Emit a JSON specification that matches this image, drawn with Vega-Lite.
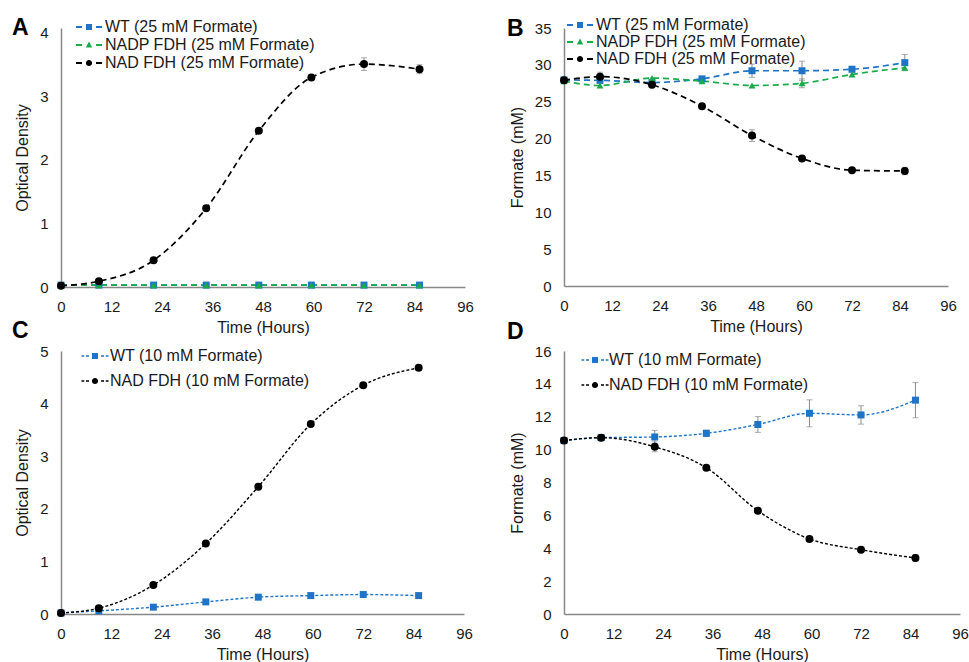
{
"$schema":"https://vega.github.io/schema/vega-lite/v6.json",
"padding":{"left":12,"top":17,"right":5,"bottom":0},
"datasets":{"d":[
{"p":"A","s":"WT (25 mM Formate)","t":0,"v":0.03},
{"p":"A","s":"WT (25 mM Formate)","t":9,"v":0.03},
{"p":"A","s":"WT (25 mM Formate)","t":22,"v":0.03},
{"p":"A","s":"WT (25 mM Formate)","t":34.5,"v":0.03},
{"p":"A","s":"WT (25 mM Formate)","t":47,"v":0.03},
{"p":"A","s":"WT (25 mM Formate)","t":59.5,"v":0.03},
{"p":"A","s":"WT (25 mM Formate)","t":72,"v":0.03},
{"p":"A","s":"WT (25 mM Formate)","t":85.2,"v":0.03},
{"p":"A","s":"NADP FDH (25 mM Formate)","t":0,"v":0.03},
{"p":"A","s":"NADP FDH (25 mM Formate)","t":9,"v":0.03},
{"p":"A","s":"NADP FDH (25 mM Formate)","t":22,"v":0.03},
{"p":"A","s":"NADP FDH (25 mM Formate)","t":34.5,"v":0.03},
{"p":"A","s":"NADP FDH (25 mM Formate)","t":47,"v":0.03},
{"p":"A","s":"NADP FDH (25 mM Formate)","t":59.5,"v":0.03},
{"p":"A","s":"NADP FDH (25 mM Formate)","t":72,"v":0.03},
{"p":"A","s":"NADP FDH (25 mM Formate)","t":85.2,"v":0.03},
{"p":"A","s":"NAD FDH (25 mM Formate)","t":0,"v":0.02},
{"p":"A","s":"NAD FDH (25 mM Formate)","t":9,"v":0.09},
{"p":"A","s":"NAD FDH (25 mM Formate)","t":22,"v":0.42},
{"p":"A","s":"NAD FDH (25 mM Formate)","t":34.5,"v":1.24},
{"p":"A","s":"NAD FDH (25 mM Formate)","t":47,"v":2.46},
{"p":"A","s":"NAD FDH (25 mM Formate)","t":59.5,"v":3.30,"lo":3.27,"hi":3.33},
{"p":"A","s":"NAD FDH (25 mM Formate)","t":72,"v":3.51,"lo":3.41,"hi":3.61},
{"p":"A","s":"NAD FDH (25 mM Formate)","t":85.2,"v":3.43,"lo":3.36,"hi":3.50},
{"p":"B","s":"WT (25 mM Formate)","t":0,"v":27.95},
{"p":"B","s":"WT (25 mM Formate)","t":9,"v":27.9,"lo":27.5,"hi":28.3},
{"p":"B","s":"WT (25 mM Formate)","t":22,"v":27.6},
{"p":"B","s":"WT (25 mM Formate)","t":34.5,"v":28.1},
{"p":"B","s":"WT (25 mM Formate)","t":47,"v":29.2,"lo":28.3,"hi":30.1},
{"p":"B","s":"WT (25 mM Formate)","t":59.5,"v":29.2,"lo":27.9,"hi":30.5},
{"p":"B","s":"WT (25 mM Formate)","t":72,"v":29.4,"lo":29.0,"hi":29.8},
{"p":"B","s":"WT (25 mM Formate)","t":85.2,"v":30.3,"lo":29.2,"hi":31.4},
{"p":"B","s":"NADP FDH (25 mM Formate)","t":0,"v":27.8},
{"p":"B","s":"NADP FDH (25 mM Formate)","t":9,"v":27.2},
{"p":"B","s":"NADP FDH (25 mM Formate)","t":22,"v":28.2},
{"p":"B","s":"NADP FDH (25 mM Formate)","t":34.5,"v":27.8},
{"p":"B","s":"NADP FDH (25 mM Formate)","t":47,"v":27.2},
{"p":"B","s":"NADP FDH (25 mM Formate)","t":59.5,"v":27.5,"lo":26.9,"hi":28.1},
{"p":"B","s":"NADP FDH (25 mM Formate)","t":72,"v":28.7},
{"p":"B","s":"NADP FDH (25 mM Formate)","t":85.2,"v":29.6},
{"p":"B","s":"NAD FDH (25 mM Formate)","t":0,"v":27.9},
{"p":"B","s":"NAD FDH (25 mM Formate)","t":9,"v":28.4,"lo":27.8,"hi":29.0},
{"p":"B","s":"NAD FDH (25 mM Formate)","t":22,"v":27.3,"lo":26.9,"hi":27.7},
{"p":"B","s":"NAD FDH (25 mM Formate)","t":34.5,"v":24.4},
{"p":"B","s":"NAD FDH (25 mM Formate)","t":47,"v":20.4,"lo":19.6,"hi":21.2},
{"p":"B","s":"NAD FDH (25 mM Formate)","t":59.5,"v":17.3},
{"p":"B","s":"NAD FDH (25 mM Formate)","t":72,"v":15.7},
{"p":"B","s":"NAD FDH (25 mM Formate)","t":85.2,"v":15.6,"lo":15.1,"hi":16.1},
{"p":"C","s":"WT (10 mM Formate)","t":0,"v":0.02},
{"p":"C","s":"WT (10 mM Formate)","t":9,"v":0.06},
{"p":"C","s":"WT (10 mM Formate)","t":22,"v":0.13},
{"p":"C","s":"WT (10 mM Formate)","t":34.5,"v":0.23},
{"p":"C","s":"WT (10 mM Formate)","t":47,"v":0.32},
{"p":"C","s":"WT (10 mM Formate)","t":59.5,"v":0.35},
{"p":"C","s":"WT (10 mM Formate)","t":72,"v":0.37},
{"p":"C","s":"WT (10 mM Formate)","t":85.2,"v":0.35},
{"p":"C","s":"NAD FDH (10 mM Formate)","t":0,"v":0.02},
{"p":"C","s":"NAD FDH (10 mM Formate)","t":9,"v":0.11},
{"p":"C","s":"NAD FDH (10 mM Formate)","t":22,"v":0.55},
{"p":"C","s":"NAD FDH (10 mM Formate)","t":34.5,"v":1.34},
{"p":"C","s":"NAD FDH (10 mM Formate)","t":47,"v":2.42},
{"p":"C","s":"NAD FDH (10 mM Formate)","t":59.5,"v":3.61},
{"p":"C","s":"NAD FDH (10 mM Formate)","t":72,"v":4.35},
{"p":"C","s":"NAD FDH (10 mM Formate)","t":85.2,"v":4.68},
{"p":"D","s":"WT (10 mM Formate)","t":0,"v":10.55},
{"p":"D","s":"WT (10 mM Formate)","t":9,"v":10.73},
{"p":"D","s":"WT (10 mM Formate)","t":22,"v":10.77,"lo":10.37,"hi":11.17},
{"p":"D","s":"WT (10 mM Formate)","t":34.5,"v":10.99,"lo":10.79,"hi":11.19},
{"p":"D","s":"WT (10 mM Formate)","t":47,"v":11.53,"lo":11.05,"hi":12.01},
{"p":"D","s":"WT (10 mM Formate)","t":59.5,"v":12.21,"lo":11.39,"hi":13.03},
{"p":"D","s":"WT (10 mM Formate)","t":72,"v":12.11,"lo":11.55,"hi":12.67},
{"p":"D","s":"WT (10 mM Formate)","t":85.2,"v":13.01,"lo":11.94,"hi":14.08},
{"p":"D","s":"NAD FDH (10 mM Formate)","t":0,"v":10.55},
{"p":"D","s":"NAD FDH (10 mM Formate)","t":9,"v":10.73},
{"p":"D","s":"NAD FDH (10 mM Formate)","t":22,"v":10.17,"lo":9.87,"hi":10.47},
{"p":"D","s":"NAD FDH (10 mM Formate)","t":34.5,"v":8.9},
{"p":"D","s":"NAD FDH (10 mM Formate)","t":47,"v":6.28,"lo":6.13,"hi":6.43},
{"p":"D","s":"NAD FDH (10 mM Formate)","t":59.5,"v":4.57,"lo":4.42,"hi":4.72},
{"p":"D","s":"NAD FDH (10 mM Formate)","t":72,"v":3.91},
{"p":"D","s":"NAD FDH (10 mM Formate)","t":85.2,"v":3.41,"lo":3.21,"hi":3.61}
]},
"data":{"name":"d"},
"columns":2,
"spacing":{"row":64,"column":99},
"bounds":"flush",
"align":"each",
"resolve":{"scale":{"color":"independent","shape":"independent"},"legend":{"color":"independent","shape":"independent"}},
"concat":[
{"width":404,"height":259,
"title":{"text":"A","dx":-49,"offset":-21},
"transform":[{"filter":"datum.p=='A'"}],
"encoding":{
"x":{"field":"t","type":"quantitative","scale":{"domain":[0,96],"nice":false},"axis":{"values":[0,12,24,36,48,60,72,84,96],"title":"Time (Hours)"}},
"y":{"field":"v","type":"quantitative","scale":{"domain":[0,4.0787],"nice":false},"axis":{"values":[0,1,2,3,4],"title":"Optical Density"}}},
"layer":[
{"transform":[{"filter":"isValid(datum.lo)"}],"mark":{"type":"errorbar","color":"#8a8a8a","thickness":1,"ticks":{"size":6}},"encoding":{"y":{"field":"lo","type":"quantitative","scale":{"domain":[0,4.0787],"nice":false},"title":"Optical Density"},"y2":{"field":"hi"}}},
{"transform":[{"filter":"datum.s=='WT (25 mM Formate)'"}],"mark":{"type":"line","color":"#1f74c8","strokeDash":[6,4],"strokeWidth":1.7,"interpolate":"monotone"}},
{"transform":[{"filter":"datum.s=='NADP FDH (25 mM Formate)'"}],"mark":{"type":"line","color":"#1aab4b","strokeDash":[6,4],"strokeWidth":1.7,"interpolate":"monotone"}},
{"transform":[{"filter":"datum.s=='NAD FDH (25 mM Formate)'"}],"mark":{"type":"line","color":"#000000","strokeDash":[6,4],"strokeWidth":1.7,"interpolate":"monotone"}},
{"transform":[{"filter":"datum.s=='WT (25 mM Formate)'"}],"mark":{"type":"point","shape":"square","filled":true,"opacity":1,"size":49,"color":"#1f74c8"}},
{"transform":[{"filter":"datum.s=='NADP FDH (25 mM Formate)'"}],"mark":{"type":"point","shape":"triangle-up","filled":true,"opacity":1,"size":50,"color":"#1aab4b"}},
{"transform":[{"filter":"datum.s=='NAD FDH (25 mM Formate)'"}],"mark":{"type":"point","shape":"circle","filled":true,"opacity":1,"size":64,"color":"#000000"}},
{"data":{"values":[]},"mark":{"type":"point","filled":true,"opacity":1},
"encoding":{
"color":{"field":"s","type":"nominal","scale":{"domain":["WT (25 mM Formate)","NADP FDH (25 mM Formate)","NAD FDH (25 mM Formate)"],"range":["#1f74c8","#1aab4b","#000000"]},"legend":{"orient":"none","legendX":20,"legendY":-9,"title":null,"symbolSize":100,"rowPadding":2,"labelOffset":8,"padding":0}},
"shape":{"field":"s","type":"nominal","scale":{"domain":["WT (25 mM Formate)","NADP FDH (25 mM Formate)","NAD FDH (25 mM Formate)"],"range":["M-2.6,-0.2H-1.4V0.2H-2.6Z M-0.6,-0.6H0.6V0.6H-0.6Z M1.4,-0.2H2.6V0.2H1.4Z","M-2.6,-0.2H-1.4V0.2H-2.6Z M0,-0.7L0.65,0.5H-0.65Z M1.4,-0.2H2.6V0.2H1.4Z","M-2.6,-0.2H-1.4V0.2H-2.6Z M0.62,0A0.62,0.62 0 1,1 -0.62,0A0.62,0.62 0 1,1 0.62,0Z M1.4,-0.2H2.6V0.2H1.4Z"]},"legend":{"orient":"none","legendX":20,"legendY":-9,"title":null,"symbolSize":100,"rowPadding":2,"labelOffset":8,"padding":0}}}}
]},
{"width":384,"height":258,
"title":{"text":"B","dx":-57,"offset":-24},
"transform":[{"filter":"datum.p=='B'"}],
"encoding":{
"x":{"field":"t","type":"quantitative","scale":{"domain":[0,96],"nice":false},"axis":{"values":[0,12,24,36,48,60,72,84,96],"title":"Time (Hours)"}},
"y":{"field":"v","type":"quantitative","scale":{"domain":[0,35],"nice":false},"axis":{"values":[0,5,10,15,20,25,30,35],"title":"Formate (mM)"}}},
"layer":[
{"transform":[{"filter":"isValid(datum.lo)"}],"mark":{"type":"errorbar","color":"#8a8a8a","thickness":1,"ticks":{"size":6}},"encoding":{"y":{"field":"lo","type":"quantitative","scale":{"domain":[0,35],"nice":false},"title":"Formate (mM)"},"y2":{"field":"hi"}}},
{"transform":[{"filter":"datum.s=='WT (25 mM Formate)'"}],"mark":{"type":"line","color":"#1f74c8","strokeDash":[6,4],"strokeWidth":1.7,"interpolate":"monotone"}},
{"transform":[{"filter":"datum.s=='NADP FDH (25 mM Formate)'"}],"mark":{"type":"line","color":"#1aab4b","strokeDash":[6,4],"strokeWidth":1.7,"interpolate":"monotone"}},
{"transform":[{"filter":"datum.s=='NAD FDH (25 mM Formate)'"}],"mark":{"type":"line","color":"#000000","strokeDash":[6,4],"strokeWidth":1.7,"interpolate":"monotone"}},
{"transform":[{"filter":"datum.s=='WT (25 mM Formate)'"}],"mark":{"type":"point","shape":"square","filled":true,"opacity":1,"size":49,"color":"#1f74c8"}},
{"transform":[{"filter":"datum.s=='NADP FDH (25 mM Formate)'"}],"mark":{"type":"point","shape":"triangle-up","filled":true,"opacity":1,"size":50,"color":"#1aab4b"}},
{"transform":[{"filter":"datum.s=='NAD FDH (25 mM Formate)'"}],"mark":{"type":"point","shape":"circle","filled":true,"opacity":1,"size":64,"color":"#000000"}},
{"data":{"values":[]},"mark":{"type":"point","filled":true,"opacity":1},
"encoding":{
"color":{"field":"s","type":"nominal","scale":{"domain":["WT (25 mM Formate)","NADP FDH (25 mM Formate)","NAD FDH (25 mM Formate)"],"range":["#1f74c8","#1aab4b","#000000"]},"legend":{"orient":"none","legendX":8,"legendY":-11,"title":null,"symbolSize":100,"rowPadding":1,"labelOffset":8,"padding":0}},
"shape":{"field":"s","type":"nominal","scale":{"domain":["WT (25 mM Formate)","NADP FDH (25 mM Formate)","NAD FDH (25 mM Formate)"],"range":["M-2.6,-0.2H-1.4V0.2H-2.6Z M-0.6,-0.6H0.6V0.6H-0.6Z M1.4,-0.2H2.6V0.2H1.4Z","M-2.6,-0.2H-1.4V0.2H-2.6Z M0,-0.7L0.65,0.5H-0.65Z M1.4,-0.2H2.6V0.2H1.4Z","M-2.6,-0.2H-1.4V0.2H-2.6Z M0.62,0A0.62,0.62 0 1,1 -0.62,0A0.62,0.62 0 1,1 0.62,0Z M1.4,-0.2H2.6V0.2H1.4Z"]},"legend":{"orient":"none","legendX":8,"legendY":-11,"title":null,"symbolSize":100,"rowPadding":1,"labelOffset":8,"padding":0}}}}
]},
{"width":403,"height":263,
"title":{"text":"C","dx":-49,"offset":1},
"transform":[{"filter":"datum.p=='C'"}],
"encoding":{
"x":{"field":"t","type":"quantitative","scale":{"domain":[0,96],"nice":false},"axis":{"values":[0,12,24,36,48,60,72,84,96],"title":"Time (Hours)"}},
"y":{"field":"v","type":"quantitative","scale":{"domain":[0,5],"nice":false},"axis":{"values":[0,1,2,3,4,5],"title":"Optical Density"}}},
"layer":[
{"transform":[{"filter":"datum.s=='WT (10 mM Formate)'"}],"mark":{"type":"line","color":"#1f74c8","strokeDash":[3,2],"strokeWidth":1.4,"interpolate":"monotone"}},
{"transform":[{"filter":"datum.s=='NAD FDH (10 mM Formate)'"}],"mark":{"type":"line","color":"#000000","strokeDash":[3,2],"strokeWidth":1.4,"interpolate":"monotone"}},
{"transform":[{"filter":"datum.s=='WT (10 mM Formate)'"}],"mark":{"type":"point","shape":"square","filled":true,"opacity":1,"size":49,"color":"#1f74c8"}},
{"transform":[{"filter":"datum.s=='NAD FDH (10 mM Formate)'"}],"mark":{"type":"point","shape":"circle","filled":true,"opacity":1,"size":64,"color":"#000000"}},
{"data":{"values":[]},"mark":{"type":"point","filled":true,"opacity":1},
"encoding":{
"color":{"field":"s","type":"nominal","scale":{"domain":["WT (10 mM Formate)","NAD FDH (10 mM Formate)"],"range":["#1f74c8","#000000"]},"legend":{"orient":"none","legendX":26,"legendY":-3,"title":null,"symbolSize":100,"rowPadding":9,"labelOffset":7,"padding":0}},
"shape":{"field":"s","type":"nominal","scale":{"domain":["WT (10 mM Formate)","NAD FDH (10 mM Formate)"],"range":["M-2.7,-0.15H-2.15V0.15H-2.7Z M-1.8,-0.15H-1.2V0.15H-1.8Z M-0.6,-0.6H0.6V0.6H-0.6Z M1.2,-0.15H1.8V0.15H1.2Z M2.15,-0.15H2.7V0.15H2.15Z","M-2.7,-0.15H-2.15V0.15H-2.7Z M-1.8,-0.15H-1.2V0.15H-1.8Z M0.62,0A0.62,0.62 0 1,1 -0.62,0A0.62,0.62 0 1,1 0.62,0Z M1.2,-0.15H1.8V0.15H1.2Z M2.15,-0.15H2.7V0.15H2.15Z"]},"legend":{"orient":"none","legendX":26,"legendY":-3,"title":null,"symbolSize":100,"rowPadding":9,"labelOffset":7,"padding":0}}}}
]},
{"width":396,"height":263,
"title":{"text":"D","dx":-57,"offset":0},
"transform":[{"filter":"datum.p=='D'"}],
"encoding":{
"x":{"field":"t","type":"quantitative","scale":{"domain":[0,96],"nice":false},"axis":{"values":[0,12,24,36,48,60,72,84,96],"title":"Time (Hours)"}},
"y":{"field":"v","type":"quantitative","scale":{"domain":[0,16],"nice":false},"axis":{"values":[0,2,4,6,8,10,12,14,16],"title":"Formate (mM)"}}},
"layer":[
{"transform":[{"filter":"isValid(datum.lo)"}],"mark":{"type":"errorbar","color":"#8a8a8a","thickness":1,"ticks":{"size":6}},"encoding":{"y":{"field":"lo","type":"quantitative","scale":{"domain":[0,16],"nice":false},"title":"Formate (mM)"},"y2":{"field":"hi"}}},
{"transform":[{"filter":"datum.s=='WT (10 mM Formate)'"}],"mark":{"type":"line","color":"#1f74c8","strokeDash":[3,2],"strokeWidth":1.4,"interpolate":"monotone"}},
{"transform":[{"filter":"datum.s=='NAD FDH (10 mM Formate)'"}],"mark":{"type":"line","color":"#000000","strokeDash":[3,2],"strokeWidth":1.4,"interpolate":"monotone"}},
{"transform":[{"filter":"datum.s=='WT (10 mM Formate)'"}],"mark":{"type":"point","shape":"square","filled":true,"opacity":1,"size":49,"color":"#1f74c8"}},
{"transform":[{"filter":"datum.s=='NAD FDH (10 mM Formate)'"}],"mark":{"type":"point","shape":"circle","filled":true,"opacity":1,"size":64,"color":"#000000"}},
{"data":{"values":[]},"mark":{"type":"point","filled":true,"opacity":1},
"encoding":{
"color":{"field":"s","type":"nominal","scale":{"domain":["WT (10 mM Formate)","NAD FDH (10 mM Formate)"],"range":["#1f74c8","#000000"]},"legend":{"orient":"none","legendX":23,"legendY":1,"title":null,"symbolSize":100,"rowPadding":9,"labelOffset":6,"padding":0}},
"shape":{"field":"s","type":"nominal","scale":{"domain":["WT (10 mM Formate)","NAD FDH (10 mM Formate)"],"range":["M-2.7,-0.15H-2.15V0.15H-2.7Z M-1.8,-0.15H-1.2V0.15H-1.8Z M-0.6,-0.6H0.6V0.6H-0.6Z M1.2,-0.15H1.8V0.15H1.2Z M2.15,-0.15H2.7V0.15H2.15Z","M-2.7,-0.15H-2.15V0.15H-2.7Z M-1.8,-0.15H-1.2V0.15H-1.8Z M0.62,0A0.62,0.62 0 1,1 -0.62,0A0.62,0.62 0 1,1 0.62,0Z M1.2,-0.15H1.8V0.15H1.2Z M2.15,-0.15H2.7V0.15H2.15Z"]},"legend":{"orient":"none","legendX":23,"legendY":1,"title":null,"symbolSize":100,"rowPadding":9,"labelOffset":6,"padding":0}}}}
]}
],
"config":{
"font":"Liberation Sans",
"view":{"stroke":null},
"title":{"anchor":"start","frame":"group","baseline":"alphabetic","fontSize":23,"fontWeight":"bold","font":"Liberation Sans","color":"#000000"},
"axis":{"grid":false,"ticks":false,"tickSize":0,"domainColor":"#888888","domainWidth":1.5,"labelFont":"Liberation Sans","labelFontSize":15,"labelColor":"#1a1a1a","titleFont":"Liberation Sans","titleFontSize":16,"titleFontWeight":"normal","titleColor":"#1a1a1a","labelFlush":false,"labelOverlap":false,"labelBound":false},
"axisX":{"labelPadding":12,"titlePadding":5},
"axisY":{"labelPadding":13,"titlePadding":9},
"legend":{"labelFont":"Liberation Sans","labelColor":"#1a1a1a","labelFontSize":16,"labelLimit":400}
}
}
